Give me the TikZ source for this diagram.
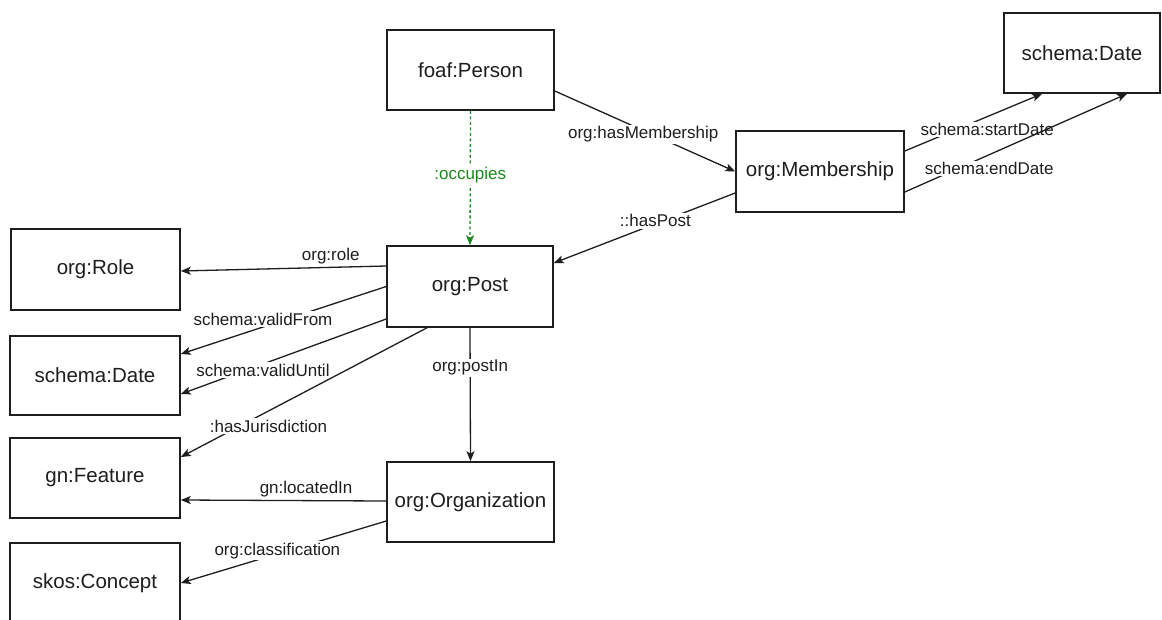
\documentclass[tikz,border=0pt]{standalone}
\usepackage{fontspec}
\setmainfont{Liberation Sans}
\usetikzlibrary{arrows.meta}
\definecolor{ink}{HTML}{1E1E1E}
\definecolor{occgreen}{HTML}{1A8A1A}
\tikzset{
  cls/.style={draw=ink, line width=1.6pt, fill=white, inner sep=0pt,
    font=\fontsize{20.5}{24}\selectfont, text=ink},
  rel/.style={draw=ink, line width=1.3pt, -{Stealth[length=10pt,width=8pt,inset=2.5pt]}},
  occ/.style={draw=occgreen, line width=1.3pt, dash pattern=on 3pt off 2.5pt,
    -{Stealth[length=10pt,width=8pt,inset=2.5pt]}},
  lbl/.style={font=\fontsize{17}{20}\selectfont, text=ink, inner sep=1.5pt},
  lblw/.style={lbl, fill=white},
}
\begin{document}
\begin{tikzpicture}[x=1pt,y=-1pt]
\useasboundingbox (0,0) rectangle (1162,619);
\clip (0,0) rectangle (1162,619);
\fill[white] (0,0) rectangle (1162,619);

% classes
\node[cls, minimum width=167pt, minimum height=80pt] (person) at (470.5,70) {foaf:Person};
\node[cls, minimum width=168pt, minimum height=81pt] (membership) at (820,171.5) {org:Membership};
\node[cls, minimum width=156pt, minimum height=80pt] (dateR) at (1082,53) {schema:Date};
\node[cls, minimum width=166pt, minimum height=81pt] (post) at (470,286.5) {org:Post};
\node[cls, minimum width=169pt, minimum height=81pt] (role) at (95.5,269.5) {org:Role};
\node[cls, minimum width=170pt, minimum height=79pt] (dateL) at (95,375.5) {schema:Date};
\node[cls, minimum width=170pt, minimum height=80pt] (feature) at (95,478) {gn:Feature};
\node[cls, minimum width=167pt, minimum height=80pt] (org) at (470.5,502) {org:Organization};
\node[cls, minimum width=170pt, minimum height=80pt] (concept) at (95,583) {skos:Concept};

% relations
\draw[rel] ([yshift=-21pt]person.east) -- node[lblw, pos=0.49, yshift=-4pt] {org:hasMembership} (membership.west);
\draw[occ] (person.south) -- node[lblw, pos=0.48, text=occgreen] {:occupies} (post.north);
\draw[rel] ([yshift=-21.5pt]membership.west) -- node[lblw, pos=0.44, yshift=3pt] {::hasPost} ([yshift=23.5pt]post.east);
\draw[rel] ([yshift=20.5pt]membership.east) -- node[lblw, pos=0.6, yshift=-13pt] {schema:startDate} ([xshift=-40pt]dateR.south);
\draw[rel] ([yshift=-20.5pt]membership.east) -- node[lblw, pos=0.38, yshift=-14pt] {schema:endDate} ([xshift=45pt]dateR.south);

\draw[rel] ([yshift=20.5pt]post.west) -- node[lbl, pos=0.27, above=1pt] {org:role} ([yshift=-1.5pt]role.east);
\draw[rel] (post.west) -- node[lblw, pos=0.6, yshift=8pt] {schema:validFrom} ([yshift=21.5pt]dateL.east);
\draw[rel] ([yshift=-32.5pt]post.west) -- node[lblw, pos=0.6, yshift=-6pt] {schema:validUntil} ([yshift=-18.5pt]dateL.east);
\draw[rel] ([xshift=-43pt]post.south) -- node[lblw, pos=0.644, yshift=-15pt] {:hasJurisdiction} ([yshift=21pt]feature.east);
\draw[rel] (post.south) -- node[lblw, pos=0.3] {org:postIn} (org.north);

\draw[rel] ([yshift=1pt]org.west) -- node[lbl, pos=0.39, above=1pt] {gn:locatedIn} ([yshift=-22pt]feature.east);
\draw[rel] ([yshift=-19pt]org.west) -- node[lblw, pos=0.53, yshift=3pt] {org:classification} (concept.east);
\end{tikzpicture}
\end{document}
